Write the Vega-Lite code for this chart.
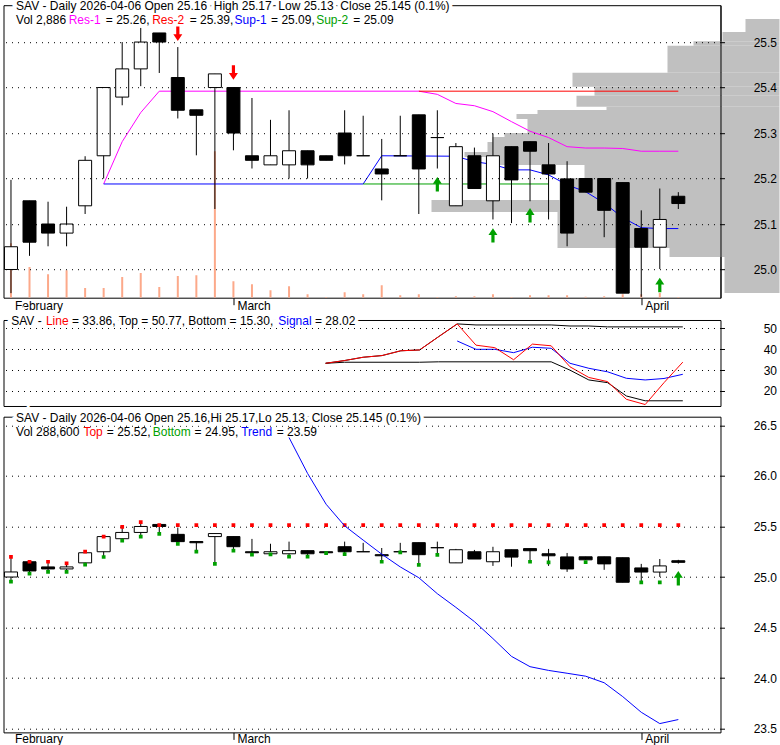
{
"$schema":"https://vega.github.io/schema/vega-lite/v6.json",
"background":"white",
"padding":{"left":2.5,"top":-0.8,"right":0,"bottom":0},
"config":{
 "view":{"stroke":"black","strokeWidth":1},
 "font":"Liberation Sans",
 "text":{"font":"Liberation Sans","fontSize":12,"align":"left","baseline":"alphabetic"},
 "axis":{"labelFont":"Liberation Sans","labelFontSize":12,"labelColor":"black","title":null,"domain":false,"labelFlush":false,"labelOverlap":false,"labelBound":false,"tickColor":"black"}
},
"datasets":{
 "candles":[
  {"d":"2026-02-11","i":0,"o":25.00,"h":25.197,"l":24.948,"c":25.05,"v":272500},
  {"d":"2026-02-12","i":1,"o":25.151,"h":25.151,"l":25.03,"c":25.06,"v":154000},
  {"d":"2026-02-13","i":2,"o":25.10,"h":25.149,"l":25.051,"c":25.08,"v":117500},
  {"d":"2026-02-17","i":3,"o":25.08,"h":25.138,"l":25.051,"c":25.10,"v":137500},
  {"d":"2026-02-18","i":4,"o":25.14,"h":25.249,"l":25.122,"c":25.24,"v":49000},
  {"d":"2026-02-19","i":5,"o":25.25,"h":25.40,"l":25.20,"c":25.40,"v":49000},
  {"d":"2026-02-20","i":6,"o":25.379,"h":25.50,"l":25.361,"c":25.441,"v":104000},
  {"d":"2026-02-23","i":7,"o":25.441,"h":25.531,"l":25.403,"c":25.50,"v":124000},
  {"d":"2026-02-24","i":8,"o":25.52,"h":25.52,"l":25.432,"c":25.50,"v":54000},
  {"d":"2026-02-25","i":9,"o":25.422,"h":25.489,"l":25.332,"c":25.35,"v":109000},
  {"d":"2026-02-26","i":10,"o":25.351,"h":25.351,"l":25.251,"c":25.339,"v":112500},
  {"d":"2026-02-27","i":11,"o":25.40,"h":25.43,"l":25.133,"c":25.43,"v":732500},
  {"d":"2026-03-02","i":12,"o":25.40,"h":25.40,"l":25.262,"c":25.30,"v":82500},
  {"d":"2026-03-03","i":13,"o":25.25,"h":25.377,"l":25.222,"c":25.24,"v":67500},
  {"d":"2026-03-04","i":14,"o":25.23,"h":25.329,"l":25.23,"c":25.25,"v":37500},
  {"d":"2026-03-05","i":15,"o":25.23,"h":25.35,"l":25.20,"c":25.261,"v":57500},
  {"d":"2026-03-06","i":16,"o":25.261,"h":25.261,"l":25.20,"c":25.23,"v":17500},
  {"d":"2026-03-09","i":17,"o":25.25,"h":25.25,"l":25.24,"c":25.24,"v":4000},
  {"d":"2026-03-10","i":18,"o":25.30,"h":25.35,"l":25.231,"c":25.25,"v":27500},
  {"d":"2026-03-11","i":19,"o":25.25,"h":25.338,"l":25.25,"c":25.25,"v":17500},
  {"d":"2026-03-12","i":20,"o":25.221,"h":25.287,"l":25.152,"c":25.21,"v":62500},
  {"d":"2026-03-13","i":21,"o":25.25,"h":25.338,"l":25.25,"c":25.25,"v":12500},
  {"d":"2026-03-16","i":22,"o":25.34,"h":25.34,"l":25.122,"c":25.221,"v":17500},
  {"d":"2026-03-17","i":23,"o":25.29,"h":25.35,"l":25.222,"c":25.29,"v":4000},
  {"d":"2026-03-18","i":24,"o":25.14,"h":25.278,"l":25.14,"c":25.27,"v":7500},
  {"d":"2026-03-19","i":25,"o":25.25,"h":25.268,"l":25.178,"c":25.178,"v":7500},
  {"d":"2026-03-20","i":26,"o":25.151,"h":25.299,"l":25.11,"c":25.25,"v":17500},
  {"d":"2026-03-23","i":27,"o":25.27,"h":25.27,"l":25.102,"c":25.197,"v":4000},
  {"d":"2026-03-24","i":28,"o":25.281,"h":25.281,"l":25.15,"c":25.26,"v":12500},
  {"d":"2026-03-25","i":29,"o":25.23,"h":25.278,"l":25.11,"c":25.21,"v":12500},
  {"d":"2026-03-26","i":30,"o":25.199,"h":25.238,"l":25.051,"c":25.08,"v":12500},
  {"d":"2026-03-27","i":31,"o":25.20,"h":25.20,"l":25.17,"c":25.17,"v":5000},
  {"d":"2026-03-30","i":32,"o":25.20,"h":25.20,"l":25.071,"c":25.13,"v":7500},
  {"d":"2026-03-31","i":33,"o":25.191,"h":25.191,"l":24.948,"c":24.948,"v":17500},
  {"d":"2026-04-01","i":34,"o":25.09,"h":25.13,"l":24.94,"c":25.049,"v":17500},
  {"d":"2026-04-02","i":35,"o":25.049,"h":25.178,"l":25.001,"c":25.11,"v":24000},
  {"d":"2026-04-06","i":36,"o":25.161,"h":25.17,"l":25.133,"c":25.145,"v":2886}
 ],
 "ind":[
  {"s":"Res-1","i":5,"p":25.188},{"s":"Res-1","i":6,"p":25.281},{"s":"Res-1","i":7,"p":25.345},{"s":"Res-1","i":8,"p":25.392},
  {"s":"Res-1","i":22,"p":25.392},{"s":"Res-1","i":23,"p":25.385},{"s":"Res-1","i":24,"p":25.365},{"s":"Res-1","i":25,"p":25.36},
  {"s":"Res-1","i":26,"p":25.347},{"s":"Res-1","i":27,"p":25.325},{"s":"Res-1","i":28,"p":25.304},{"s":"Res-1","i":29,"p":25.29},
  {"s":"Res-1","i":30,"p":25.27},{"s":"Res-1","i":31,"p":25.267},{"s":"Res-1","i":32,"p":25.267},{"s":"Res-1","i":33,"p":25.266},
  {"s":"Res-1","i":34,"p":25.26},{"s":"Res-1","i":35,"p":25.26},{"s":"Res-1","i":36,"p":25.26},
  {"s":"Res-2","i":22,"p":25.392},{"s":"Res-2","i":36,"p":25.392},
  {"s":"Sup-1","i":5,"p":25.188},{"s":"Sup-1","i":19,"p":25.188},{"s":"Sup-1","i":20,"p":25.25},{"s":"Sup-1","i":24,"p":25.249},
  {"s":"Sup-1","i":25,"p":25.237},{"s":"Sup-1","i":26,"p":25.231},{"s":"Sup-1","i":27,"p":25.219},{"s":"Sup-1","i":28,"p":25.219},
  {"s":"Sup-1","i":29,"p":25.208},{"s":"Sup-1","i":30,"p":25.186},{"s":"Sup-1","i":31,"p":25.171},{"s":"Sup-1","i":32,"p":25.146},
  {"s":"Sup-1","i":33,"p":25.114},{"s":"Sup-1","i":34,"p":25.092},{"s":"Sup-1","i":35,"p":25.09},{"s":"Sup-1","i":36,"p":25.09},
  {"s":"Sup-2","i":19,"p":25.188},{"s":"Sup-2","i":29,"p":25.188}
 ],
 "arrows":[
  {"i":9,"p":25.518,"k":"dn"},{"i":12,"p":25.433,"k":"dn"},
  {"i":23,"p":25.1875,"k":"up"},{"i":26,"p":25.075,"k":"up"},{"i":28,"p":25.119,"k":"up"},{"i":35,"p":24.966,"k":"up"}
 ],
 "profile":[
  {"lo":25.522,"hi":25.5505,"vol":34000},{"lo":25.502,"hi":25.522,"vol":57000},{"lo":25.4919,"hi":25.502,"vol":86000},
  {"lo":25.4325,"hi":25.4919,"vol":112000},{"lo":25.4018,"hi":25.4325,"vol":207000},{"lo":25.382,"hi":25.4018,"vol":185000},
  {"lo":25.3578,"hi":25.382,"vol":203000},{"lo":25.3505,"hi":25.3578,"vol":173000},{"lo":25.3418,"hi":25.3505,"vol":242000},
  {"lo":25.3308,"hi":25.3418,"vol":263000},{"lo":25.30,"hi":25.3308,"vol":252000},{"lo":25.2912,"hi":25.30,"vol":275000},
  {"lo":25.2802,"hi":25.2912,"vol":287000},{"lo":25.2582,"hi":25.2802,"vol":292000},{"lo":25.2473,"hi":25.2582,"vol":315000},
  {"lo":25.2297,"hi":25.2473,"vol":280000},{"lo":25.2011,"hi":25.2297,"vol":195000},{"lo":25.1527,"hi":25.2011,"vol":220000},
  {"lo":25.1264,"hi":25.1527,"vol":348000},{"lo":25.0473,"hi":25.1264,"vol":222000},{"lo":25.0275,"hi":25.0473,"vol":110000},
  {"lo":24.9484,"hi":25.0275,"vol":55000}
 ],
 "osc":[
  {"s":"Top","i":17,"v":33.3},{"s":"Top","i":18,"v":34.6},{"s":"Top","i":19,"v":36.2},{"s":"Top","i":20,"v":37.0},{"s":"Top","i":21,"v":39.3},
  {"s":"Top","i":22,"v":39.7},{"s":"Top","i":23,"v":46.0},{"s":"Top","i":24,"v":52.2},{"s":"Top","i":25,"v":51.7},{"s":"Top","i":29,"v":51.7},
  {"s":"Top","i":30,"v":51.2},{"s":"Top","i":31,"v":51.2},{"s":"Top","i":32,"v":50.77},{"s":"Top","i":36,"v":50.77},
  {"s":"Bottom","i":17,"v":33.3},{"s":"Bottom","i":18,"v":33.8},{"s":"Bottom","i":22,"v":33.8},{"s":"Bottom","i":23,"v":34.0},
  {"s":"Bottom","i":29,"v":34.0},{"s":"Bottom","i":30,"v":30.0},{"s":"Bottom","i":31,"v":25.3},{"s":"Bottom","i":32,"v":24.0},
  {"s":"Bottom","i":33,"v":17.6},{"s":"Bottom","i":34,"v":15.3},{"s":"Bottom","i":36,"v":15.3},
  {"s":"Line","i":17,"v":33.3},{"s":"Line","i":18,"v":34.6},{"s":"Line","i":19,"v":36.2},{"s":"Line","i":20,"v":37.0},{"s":"Line","i":21,"v":39.3},
  {"s":"Line","i":22,"v":39.7},{"s":"Line","i":23,"v":46.0},{"s":"Line","i":24,"v":52.2},{"s":"Line","i":25,"v":42.0},{"s":"Line","i":26,"v":40.8},
  {"s":"Line","i":27,"v":35.0},{"s":"Line","i":28,"v":42.5},{"s":"Line","i":29,"v":41.7},{"s":"Line","i":30,"v":31.6},{"s":"Line","i":31,"v":26.5},
  {"s":"Line","i":32,"v":24.5},{"s":"Line","i":33,"v":16.0},{"s":"Line","i":34,"v":13.5},{"s":"Line","i":35,"v":24.0},{"s":"Line","i":36,"v":33.86},
  {"s":"Signal","i":24,"v":44.0},{"s":"Signal","i":25,"v":40.0},{"s":"Signal","i":26,"v":40.0},{"s":"Signal","i":27,"v":38.4},{"s":"Signal","i":28,"v":41.0},
  {"s":"Signal","i":29,"v":40.5},{"s":"Signal","i":30,"v":33.3},{"s":"Signal","i":31,"v":30.9},{"s":"Signal","i":32,"v":29.2},{"s":"Signal","i":33,"v":26.1},
  {"s":"Signal","i":34,"v":25.3},{"s":"Signal","i":35,"v":26.0},{"s":"Signal","i":36,"v":28.02}
 ],
 "levels":[
  {"i":0,"top":25.20,"bot":24.954},{"i":1,"top":25.151,"bot":25.033},{"i":2,"top":25.151,"bot":25.05},{"i":3,"top":25.135,"bot":25.05},
  {"i":4,"top":25.25,"bot":25.122},{"i":5,"top":25.40,"bot":25.198},{"i":6,"top":25.495,"bot":25.359},{"i":7,"top":25.544,"bot":25.399},
  {"i":8,"top":25.514,"bot":25.426},{"i":9,"top":25.514,"bot":25.327},{"i":10,"top":25.514,"bot":25.25},{"i":11,"top":25.514,"bot":25.129},
  {"i":12,"top":25.514,"bot":25.26},{"i":13,"top":25.514,"bot":25.221},{"i":14,"top":25.514,"bot":25.224},{"i":15,"top":25.514,"bot":25.201},
  {"i":16,"top":25.514,"bot":25.201},{"i":17,"top":25.514,"bot":25.237},{"i":18,"top":25.514,"bot":25.227},{"i":19,"top":25.514,"bot":null},
  {"i":20,"top":25.514,"bot":25.151},{"i":21,"top":25.514,"bot":25.243},{"i":22,"top":25.514,"bot":25.119},{"i":23,"top":25.514,"bot":25.218},
  {"i":24,"top":25.514,"bot":null},{"i":25,"top":25.514,"bot":null},{"i":26,"top":25.514,"bot":null},{"i":27,"top":25.514,"bot":null},
  {"i":28,"top":25.514,"bot":25.151},{"i":29,"top":25.514,"bot":25.145},{"i":30,"top":25.514,"bot":null},{"i":31,"top":25.514,"bot":25.148},
  {"i":32,"top":25.514,"bot":null},{"i":33,"top":25.514,"bot":null},{"i":34,"top":25.514,"bot":24.947},{"i":35,"top":25.514,"bot":24.947},
  {"i":36,"top":25.514,"bot":null}
 ],
 "trend":[
  {"i":15,"t":26.38},{"i":16,"t":26.025},{"i":17,"t":25.72},{"i":18,"t":25.506},{"i":19,"t":25.365},{"i":20,"t":25.226},
  {"i":21,"t":25.10},{"i":22,"t":24.993},{"i":23,"t":24.835},{"i":24,"t":24.70},{"i":25,"t":24.559},{"i":26,"t":24.391},
  {"i":27,"t":24.215},{"i":28,"t":24.113},{"i":29,"t":24.076},{"i":30,"t":24.048},{"i":31,"t":24.019},{"i":32,"t":23.954},
  {"i":33,"t":23.817},{"i":34,"t":23.662},{"i":35,"t":23.55},{"i":36,"t":23.59}
 ],
 "arrows3":[{"i":36,"p":24.988}],
 "one":[{}]
},
"spacing":3.5,
"vconcat":[
 {"spacing":1.8,"vconcat":[
  {
   "width":717,"height":292.5,
   "layer":[
    {"data":{"name":"profile"},"mark":{"type":"bar","color":"#c0c0c0"},
     "encoding":{
      "x":{"field":"vol","type":"quantitative","scale":{"domain":[0,776000],"range":[776,0],"nice":false,"zero":false},"axis":null},
      "x2":{"datum":0},
      "y":{"field":"lo","type":"quantitative","scale":{"domain":[24.938,25.581],"nice":false,"zero":false},"axis":null},
      "y2":{"field":"hi"}}},
    {"data":{"name":"candles"},"mark":{"type":"bar","color":"#fca98a","width":2,"clip":true},
     "encoding":{
      "x":{"field":"i","type":"quantitative","scale":{"domain":[-0.133,38.005],"nice":false,"zero":false},"axis":null},
      "y":{"field":"v","type":"quantitative","scale":{"domain":[0,1462500],"nice":false},"axis":null}}},
    {"layer":[
     {"data":{"name":"ind"},"transform":[{"filter":"datum.s != 'Res-2'"}],"mark":{"type":"line","strokeWidth":1,"clip":true},
      "encoding":{
       "x":{"field":"i","type":"quantitative","scale":{"domain":[-0.133,38.005],"nice":false,"zero":false},
        "axis":{"values":[0,12,34],"labelExpr":"datum.value == 0 ? 'February' : datum.value == 12 ? 'March' : 'April'","labelAlign":"left","labelOffset":3.5,"labelBaseline":"alphabetic","labelPadding":5,"tickSize":7,"tickOpacity":{"condition":{"test":"datum.value == 0","value":0},"value":1},"grid":false}},
       "y":{"field":"p","type":"quantitative","scale":{"domain":[24.938,25.581],"nice":false,"zero":false},
        "axis":{"orient":"right","values":[25,25.1,25.2,25.3,25.4,25.5],"format":".1f","labelAlign":"right","labelBaseline":"middle","labelPadding":52,"tickSize":4,"grid":true,"gridColor":"black","gridDash":[1,5],"gridOpacity":1,"zindex":1,"domain":true,"domainColor":"black","domainWidth":1}},
       "color":{"field":"s","type":"nominal","scale":{"domain":["Res-1","Res-2","Sup-1","Sup-2"],"range":["#ff00ff","#ff0000","#0000ff","#00a000"]},"legend":null}}},
     {"data":{"name":"ind"},"transform":[{"filter":"datum.s == 'Res-2'"}],"mark":{"type":"line","strokeWidth":1,"clip":true},
      "encoding":{
       "x":{"field":"i","type":"quantitative","scale":{"domain":[-0.133,38.005],"nice":false,"zero":false}},
       "y":{"field":"p","type":"quantitative","scale":{"domain":[24.938,25.581],"nice":false,"zero":false}},
       "color":{"field":"s","type":"nominal","scale":{"domain":["Res-1","Res-2","Sup-1","Sup-2"],"range":["#ff00ff","#ff0000","#0000ff","#00a000"]},"legend":null}}},
     {"data":{"name":"candles"},"mark":{"type":"rule","color":"black","strokeWidth":1,"clip":true},
      "encoding":{
       "x":{"field":"i","type":"quantitative","scale":{"domain":[-0.133,38.005],"nice":false,"zero":false}},
       "y":{"field":"l","type":"quantitative","scale":{"domain":[24.938,25.581],"nice":false,"zero":false}},
       "y2":{"field":"h"}}},
     {"data":{"name":"candles"},"mark":{"type":"bar","width":13,"stroke":"black","strokeWidth":1,"clip":true},
      "encoding":{
       "x":{"field":"i","type":"quantitative","scale":{"domain":[-0.133,38.005],"nice":false,"zero":false}},
       "y":{"field":"o","type":"quantitative","scale":{"domain":[24.938,25.581],"nice":false,"zero":false}},
       "y2":{"field":"c"},
       "fill":{"condition":{"test":"datum.c > datum.o","value":"white"},"value":"black"}}},
     {"data":{"name":"arrows"},"transform":[{"filter":"datum.k == 'dn'"}],
      "mark":{"type":"point","shape":"M-0.22,-1L0.22,-1L0.22,0.05L0.62,0.05L0,1L-0.62,0.05L-0.22,0.05Z","filled":true,"size":210,"color":"#ff0000","opacity":1,"strokeWidth":0},
      "encoding":{
       "x":{"field":"i","type":"quantitative","scale":{"domain":[-0.133,38.005],"nice":false,"zero":false}},
       "y":{"field":"p","type":"quantitative","scale":{"domain":[24.938,25.581],"nice":false,"zero":false}}}},
     {"data":{"name":"arrows"},"transform":[{"filter":"datum.k == 'up'"}],
      "mark":{"type":"point","shape":"M-0.22,1L0.22,1L0.22,-0.05L0.62,-0.05L0,-1L-0.62,-0.05L-0.22,-0.05Z","filled":true,"size":210,"color":"#00a000","opacity":1,"strokeWidth":0},
      "encoding":{
       "x":{"field":"i","type":"quantitative","scale":{"domain":[-0.133,38.005],"nice":false,"zero":false}},
       "y":{"field":"p","type":"quantitative","scale":{"domain":[24.938,25.581],"nice":false,"zero":false}}}},
     {"data":{"name":"one"},"mark":{"type":"text","text":"SAV - Daily 2026-04-06 Open 25.16\u00a0 High 25.17\u00a0 Low 25.13\u00a0 Close 25.145 (0.1%)","color":"white","stroke":"white","strokeWidth":7},
      "encoding":{"x":{"datum":0.2766,"type":"quantitative"},"y":{"datum":25.5696,"type":"quantitative"}}},
     {"data":{"name":"one"},"mark":{"type":"text","text":"SAV - Daily 2026-04-06 Open 25.16\u00a0 High 25.17\u00a0 Low 25.13\u00a0 Close 25.145 (0.1%)","color":"black"},
      "encoding":{"x":{"datum":0.2766,"type":"quantitative"},"y":{"datum":25.5696,"type":"quantitative"}}},
     {"data":{"name":"one"},"mark":{"type":"text","text":"Vol 2,886","color":"black"},
      "encoding":{"x":{"datum":0.2766,"type":"quantitative"},"y":{"datum":25.5388,"type":"quantitative"}}},
     {"data":{"name":"one"},"mark":{"type":"text","text":"Res-1","color":"#ff00ff"},
      "encoding":{"x":{"datum":3.1117,"type":"quantitative"},"y":{"datum":25.5388,"type":"quantitative"}}},
     {"data":{"name":"one"},"mark":{"type":"text","text":"= 25.26,","color":"black"},
      "encoding":{"x":{"datum":5.117,"type":"quantitative"},"y":{"datum":25.5388,"type":"quantitative"}}},
     {"data":{"name":"one"},"mark":{"type":"text","text":"Res-2","color":"#ff0000"},
      "encoding":{"x":{"datum":7.617,"type":"quantitative"},"y":{"datum":25.5388,"type":"quantitative"}}},
     {"data":{"name":"one"},"mark":{"type":"text","text":"= 25.39,","color":"black"},
      "encoding":{"x":{"datum":9.638,"type":"quantitative"},"y":{"datum":25.5388,"type":"quantitative"}}},
     {"data":{"name":"one"},"mark":{"type":"text","text":"Sup-1","color":"#0000ff"},
      "encoding":{"x":{"datum":12.064,"type":"quantitative"},"y":{"datum":25.5388,"type":"quantitative"}}},
     {"data":{"name":"one"},"mark":{"type":"text","text":"= 25.09,","color":"black"},
      "encoding":{"x":{"datum":14.032,"type":"quantitative"},"y":{"datum":25.5388,"type":"quantitative"}}},
     {"data":{"name":"one"},"mark":{"type":"text","text":"Sup-2","color":"#00a000"},
      "encoding":{"x":{"datum":16.463,"type":"quantitative"},"y":{"datum":25.5388,"type":"quantitative"}}},
     {"data":{"name":"one"},"mark":{"type":"text","text":"= 25.09","color":"black"},
      "encoding":{"x":{"datum":18.468,"type":"quantitative"},"y":{"datum":25.5388,"type":"quantitative"}}}
    ]}
   ],
   "resolve":{"scale":{"x":"independent","y":"independent"}}
  },
  {
   "width":717,"height":86,
   "layer":[
    {
     "encoding":{
      "x":{"field":"i","type":"quantitative","scale":{"domain":[-0.133,38.005],"nice":false,"zero":false},"axis":null},
      "y":{"field":"v","type":"quantitative","scale":{"domain":[12.8,54.08],"nice":false,"zero":false},
       "axis":{"orient":"right","values":[20,30,40,50],"labelAlign":"right","labelBaseline":"middle","labelPadding":52,"tickSize":4,"grid":true,"gridColor":"black","gridDash":[1,5],"gridOpacity":1,"zindex":1}}
     },
     "layer":[
      {"data":{"name":"osc"},"transform":[{"filter":"datum.s == 'Top' || datum.s == 'Bottom'"}],"mark":{"type":"line","strokeWidth":1,"clip":true,"color":"black"},
       "encoding":{"detail":{"field":"s"}}},
      {"data":{"name":"osc"},"transform":[{"filter":"datum.s == 'Signal'"}],"mark":{"type":"line","strokeWidth":1,"clip":true,"color":"#0000ff"}},
      {"data":{"name":"osc"},"transform":[{"filter":"datum.s == 'Line'"}],"mark":{"type":"line","strokeWidth":1,"clip":true,"color":"#ff0000"}}
     ]
    },
    {
     "data":{"name":"one"},
     "layer":[
      {"mark":{"type":"text","text":"SAV -","color":"white","stroke":"white","strokeWidth":7},
       "encoding":{"x":{"datum":0.2766,"type":"quantitative","scale":{"domain":[-0.133,38.005],"nice":false,"zero":false},"axis":null},"y":{"datum":51.536,"type":"quantitative","scale":{"domain":[12.8,54.08],"nice":false,"zero":false},"axis":null}}},
      {"mark":{"type":"text","text":"Line","color":"white","stroke":"white","strokeWidth":7},
       "encoding":{"x":{"datum":2.1223,"type":"quantitative","axis":null},"y":{"datum":51.536,"type":"quantitative","axis":null}}},
      {"mark":{"type":"text","text":"= 33.86, Top = 50.77, Bottom = 15.30,","color":"white","stroke":"white","strokeWidth":7},
       "encoding":{"x":{"datum":3.5053,"type":"quantitative","axis":null},"y":{"datum":51.536,"type":"quantitative","axis":null}}},
      {"mark":{"type":"text","text":"Signal","color":"white","stroke":"white","strokeWidth":7},
       "encoding":{"x":{"datum":14.484,"type":"quantitative","axis":null},"y":{"datum":51.536,"type":"quantitative","axis":null}}},
      {"mark":{"type":"text","text":"= 28.02","color":"white","stroke":"white","strokeWidth":7},
       "encoding":{"x":{"datum":16.436,"type":"quantitative","axis":null},"y":{"datum":51.536,"type":"quantitative","axis":null}}},
      {"mark":{"type":"text","text":"SAV -","color":"black"},
       "encoding":{"x":{"datum":0.2766,"type":"quantitative","axis":null},"y":{"datum":51.536,"type":"quantitative","axis":null}}},
      {"mark":{"type":"text","text":"Line","color":"#ff0000"},
       "encoding":{"x":{"datum":2.1223,"type":"quantitative","axis":null},"y":{"datum":51.536,"type":"quantitative","axis":null}}},
      {"mark":{"type":"text","text":"= 33.86, Top = 50.77, Bottom = 15.30,","color":"black"},
       "encoding":{"x":{"datum":3.5053,"type":"quantitative","axis":null},"y":{"datum":51.536,"type":"quantitative","axis":null}}},
      {"mark":{"type":"text","text":"Signal","color":"#0000ff"},
       "encoding":{"x":{"datum":14.484,"type":"quantitative","axis":null},"y":{"datum":51.536,"type":"quantitative","axis":null}}},
      {"mark":{"type":"text","text":"= 28.02","color":"black"},
       "encoding":{"x":{"datum":16.436,"type":"quantitative","axis":null},"y":{"datum":51.536,"type":"quantitative","axis":null}}}
     ]
    }
   ],
   "resolve":{"scale":{"x":"independent","y":"independent"}}
  }
 ]},
 {
  "width":717,"height":315.7,
  "layer":[
   {"data":{"name":"candles"},"mark":{"type":"rule","color":"black","strokeWidth":1,"clip":true},
    "encoding":{
     "x":{"field":"i","type":"quantitative","scale":{"domain":[-0.133,38.005],"nice":false,"zero":false},
      "axis":{"values":[0,12,34],"labelExpr":"datum.value == 0 ? 'February' : datum.value == 12 ? 'March' : 'April'","labelAlign":"left","labelOffset":3.5,"labelBaseline":"alphabetic","labelPadding":3,"tickSize":7,"tickOpacity":{"condition":{"test":"datum.value == 0","value":0},"value":1},"grid":false}},
     "y":{"field":"l","type":"quantitative","scale":{"domain":[23.463,26.586],"nice":false,"zero":false},
      "axis":{"orient":"right","values":[23.5,24,24.5,25,25.5,26,26.5],"format":".1f","labelAlign":"right","labelBaseline":"middle","labelPadding":52,"tickSize":4,"grid":true,"gridColor":"black","gridDash":[1,5],"gridOpacity":1}},
     "y2":{"field":"h"}}},
   {"data":{"name":"candles"},"mark":{"type":"bar","width":13,"stroke":"black","strokeWidth":1,"clip":true},
    "encoding":{
     "x":{"field":"i","type":"quantitative","scale":{"domain":[-0.133,38.005],"nice":false,"zero":false}},
     "y":{"field":"o","type":"quantitative","scale":{"domain":[23.463,26.586],"nice":false,"zero":false}},
     "y2":{"field":"c"},
     "fill":{"condition":{"test":"datum.c > datum.o","value":"white"},"value":"black"}}},
   {"data":{"name":"levels"},"mark":{"type":"square","filled":true,"size":14,"color":"#ff0000","opacity":1,"clip":true},
    "encoding":{
     "x":{"field":"i","type":"quantitative","scale":{"domain":[-0.133,38.005],"nice":false,"zero":false}},
     "y":{"field":"top","type":"quantitative","scale":{"domain":[23.463,26.586],"nice":false,"zero":false}}}},
   {"data":{"name":"levels"},"transform":[{"filter":"isValid(datum.bot)"}],"mark":{"type":"square","filled":true,"size":14,"color":"#00a000","opacity":1,"clip":true},
    "encoding":{
     "x":{"field":"i","type":"quantitative","scale":{"domain":[-0.133,38.005],"nice":false,"zero":false}},
     "y":{"field":"bot","type":"quantitative","scale":{"domain":[23.463,26.586],"nice":false,"zero":false}}}},
   {"data":{"name":"trend"},"mark":{"type":"line","color":"#0000ff","strokeWidth":1,"clip":true},
    "encoding":{
     "x":{"field":"i","type":"quantitative","scale":{"domain":[-0.133,38.005],"nice":false,"zero":false}},
     "y":{"field":"t","type":"quantitative","scale":{"domain":[23.463,26.586],"nice":false,"zero":false}}}},
   {"data":{"name":"arrows3"},
    "mark":{"type":"point","shape":"M-0.22,1L0.22,1L0.22,-0.05L0.62,-0.05L0,-1L-0.62,-0.05L-0.22,-0.05Z","filled":true,"size":210,"color":"#00a000","opacity":1,"strokeWidth":0},
    "encoding":{
     "x":{"field":"i","type":"quantitative","scale":{"domain":[-0.133,38.005],"nice":false,"zero":false}},
     "y":{"field":"p","type":"quantitative","scale":{"domain":[23.463,26.586],"nice":false,"zero":false}}}},
   {"data":{"name":"one"},"mark":{"type":"text","text":"SAV - Daily 2026-04-06 Open 25.16,Hi 25.17,Lo 25.13, Close 25.145 (0.1%)","color":"white","stroke":"white","strokeWidth":7},
    "encoding":{"x":{"datum":0.2766,"type":"quantitative"},"y":{"datum":26.5365,"type":"quantitative"}}},
   {"data":{"name":"one"},"mark":{"type":"text","text":"SAV - Daily 2026-04-06 Open 25.16,Hi 25.17,Lo 25.13, Close 25.145 (0.1%)","color":"black"},
    "encoding":{"x":{"datum":0.2766,"type":"quantitative"},"y":{"datum":26.5365,"type":"quantitative"}}},
   {"data":{"name":"one"},"mark":{"type":"text","text":"Vol 288,600","color":"black"},
    "encoding":{"x":{"datum":0.2766,"type":"quantitative"},"y":{"datum":26.395,"type":"quantitative"}}},
   {"data":{"name":"one"},"mark":{"type":"text","text":"Top","color":"#ff0000"},
    "encoding":{"x":{"datum":3.9096,"type":"quantitative"},"y":{"datum":26.395,"type":"quantitative"}}},
   {"data":{"name":"one"},"mark":{"type":"text","text":"= 25.52,","color":"black"},
    "encoding":{"x":{"datum":5.17,"type":"quantitative"},"y":{"datum":26.395,"type":"quantitative"}}},
   {"data":{"name":"one"},"mark":{"type":"text","text":"Bottom","color":"#00a000"},
    "encoding":{"x":{"datum":7.649,"type":"quantitative"},"y":{"datum":26.395,"type":"quantitative"}}},
   {"data":{"name":"one"},"mark":{"type":"text","text":"= 24.95,","color":"black"},
    "encoding":{"x":{"datum":9.904,"type":"quantitative"},"y":{"datum":26.395,"type":"quantitative"}}},
   {"data":{"name":"one"},"mark":{"type":"text","text":"Trend","color":"#0000ff"},
    "encoding":{"x":{"datum":12.42,"type":"quantitative"},"y":{"datum":26.395,"type":"quantitative"}}},
   {"data":{"name":"one"},"mark":{"type":"text","text":"= 23.59","color":"black"},
    "encoding":{"x":{"datum":14.335,"type":"quantitative"},"y":{"datum":26.395,"type":"quantitative"}}}
  ]
 }
]
}
